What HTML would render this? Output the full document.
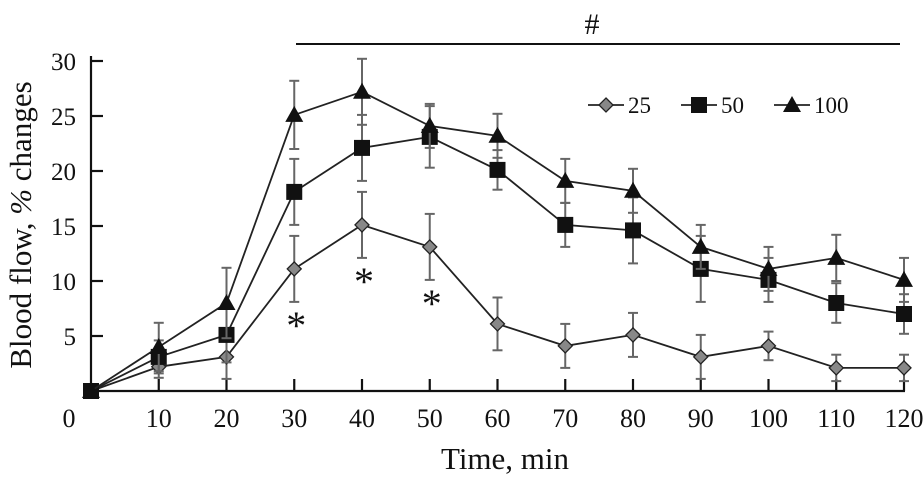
<!DOCTYPE html>
<html><head><meta charset="utf-8"><style>
body{margin:0;background:#fff}
svg text{font-family:"Liberation Serif",serif;fill:#111}
</style></head><body>
<svg id="c" width="923" height="480"></svg>
<script>
const times=[0,10,20,30,40,50,60,70,80,90,100,110,120];
const s25=[0,2.2,3.1,11.1,15.1,13.1,6.1,4.1,5.1,3.1,4.1,2.1,2.1];
const e25=[0,1,2,3,3,3,2.4,2,2,2,1.3,1.2,1.2];
const s50=[0,3.1,5.1,18.1,22.1,23.1,20.1,15.1,14.6,11.1,10.1,8.0,7.0];
const e50=[0,1.5,2.5,3,3,2.8,1.8,2,3,3,2,1.8,1.8];
const s100=[0,4.0,8.0,25.1,27.2,24.1,23.2,19.1,18.2,13.1,11.1,12.1,10.1];
const e100=[0,2.2,3.2,3.1,3,2,2,2,2,2,2,2.1,2];
const yTicks=[5,10,15,20,25,30];
const xTicks=[10,20,30,40,50,60,70,80,90,100,110,120];
const stars=[[30,11.1],[40,15.1],[50,13.1]];
const NS='http://www.w3.org/2000/svg';
const svg=document.getElementById('c');
const X=t=>91+t*6.775, Y=v=>391-v*11;
function el(tag,a,name,parent){const e=document.createElementNS(NS,tag);for(const k in a)e.setAttribute(k,a[k]);


(parent||svg).appendChild(e);return e;}
el('line',{x1:91,y1:56,x2:91,y2:391,stroke:'#111','stroke-width':2.2},'y-axis');
el('line',{x1:91,y1:391,x2:905,y2:391,stroke:'#111','stroke-width':2.2},'x-axis');
yTicks.forEach(v=>{el('line',{x1:91,y1:Y(v),x2:103,y2:Y(v),stroke:'#111','stroke-width':2.2},'y-tick');
const t=el('text',{x:76,y:Y(v)+9,'font-size':25,'text-anchor':'end'},'y-tick-label');t.textContent=v;});
xTicks.forEach(v=>{el('line',{x1:X(v),y1:379,x2:X(v),y2:391,stroke:'#111','stroke-width':2.2},'x-tick');
const t=el('text',{x:X(v),y:427,'font-size':26,'text-anchor':'middle'},'x-tick-label');t.textContent=v;});
let t0=el('text',{x:69,y:427,'font-size':26,'text-anchor':'middle'},'x-origin-label');t0.textContent='0';
let xt=el('text',{x:505,y:469,'font-size':31,'text-anchor':'middle'},'x-axis-title');xt.textContent='Time, min';
let yt=el('text',{x:0,y:0,'font-size':31,'text-anchor':'middle',transform:'translate(31,225) rotate(-90)'},'y-axis-title');
yt.innerHTML='Blood flow, <tspan font-style="italic">%</tspan> changes';
el('line',{x1:296,y1:44,x2:900,y2:44,stroke:'#111','stroke-width':2},'significance-bar');
let h=el('text',{x:592,y:34,'font-size':30,'text-anchor':'middle'},'hash-mark');h.textContent='#';
stars.forEach(s=>{const t=el('text',{x:X(s[0])+2,y:Y(s[1])+70,'font-size':40,'text-anchor':'middle'},'asterisk');t.textContent='*';});
function marker(type,x,y,g){
 if(type==='d')el('polygon',{points:`${x},${y-7} ${x+7},${y} ${x},${y+7} ${x-7},${y}`,fill:'#888',stroke:'#222','stroke-width':1.3},'diamond-marker',g);
 else if(type==='s')el('rect',{x:x-8,y:y-8,width:16,height:16,fill:'#111'},'square-marker',g);
 else el('polygon',{points:`${x},${y-9} ${x+9},${y+7} ${x-9},${y+7}`,fill:'#111'},'triangle-marker',g);}
function series(vals,errs,type,name){
 const g=el('g',{},name);
 vals.forEach((v,i)=>{if(!errs[i])return;const x=X(times[i]);
  el('line',{x1:x,y1:Y(v+errs[i]),x2:x,y2:Y(Math.max(0,v-errs[i])),stroke:'#666','stroke-width':2},'error-bar',g);
  [v+errs[i],Math.max(0,v-errs[i])].forEach(w=>el('line',{x1:x-5,y1:Y(w),x2:x+5,y2:Y(w),stroke:'#666','stroke-width':2},'error-cap',g));});
 el('polyline',{points:vals.map((v,i)=>X(times[i])+','+Y(v)).join(' '),fill:'none',stroke:'#222','stroke-width':1.8},'series-line',g);
 vals.forEach((v,i)=>marker(type,X(times[i]),Y(v),g));}
series(s25,e25,'d','series-25');
series(s50,e50,'s','series-50');
series(s100,e100,'t','series-100');
const lg=el('g',{},'legend');
[['d',588,'25'],['s',681,'50'],['t',774,'100']].forEach(([ty,x,l])=>{
 el('line',{x1:x,y1:105,x2:x+36,y2:105,stroke:'#222','stroke-width':1.8},'legend-line',lg);
 marker(ty,x+18,105,lg);
 const t=el('text',{x:x+40,y:113,'font-size':23},'legend-label',lg);t.textContent=l;});
</script>
</body></html>
